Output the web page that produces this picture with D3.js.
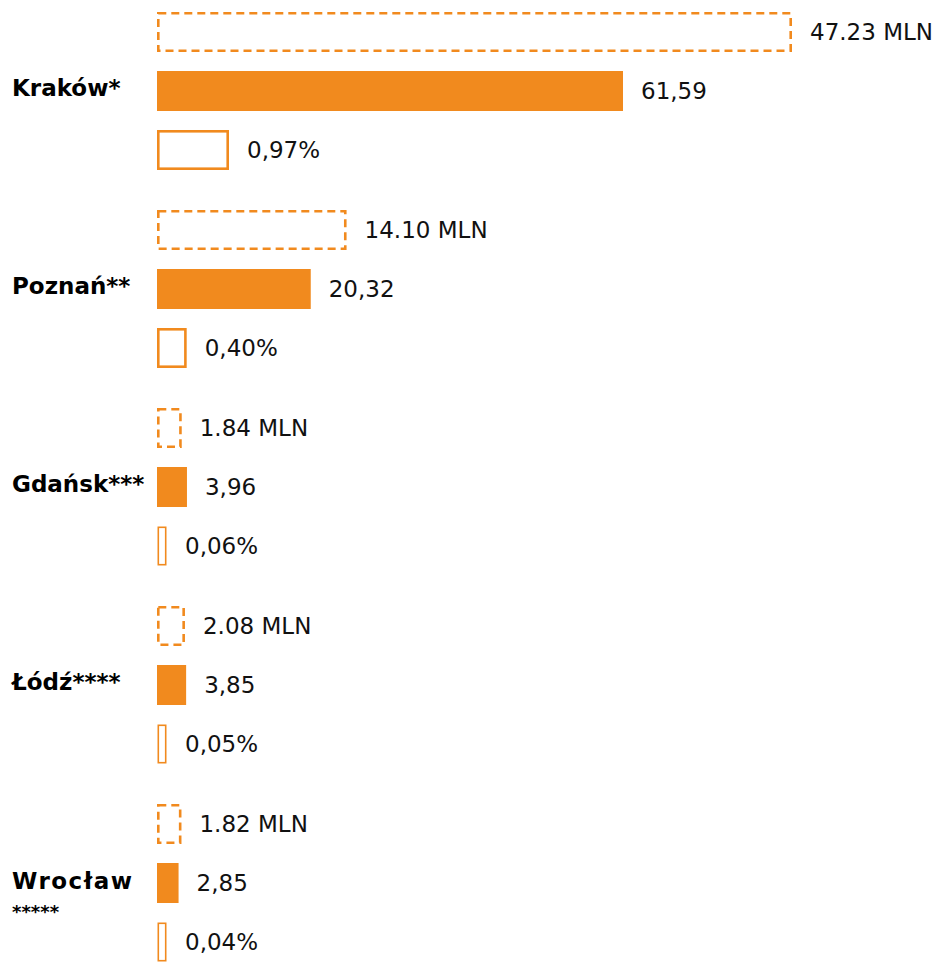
<!DOCTYPE html>
<html>
<head>
<meta charset="utf-8">
<script src="https://cdn.jsdelivr.net/npm/d3@7"></script>
<style>
  html, body { margin: 0; padding: 0; background: #fff; }
  svg { display: block; font-family: "DejaVu Sans", sans-serif; }
  .city-label { font-weight: bold; font-size: 23px; fill: #000; }
  .value-label { font-size: 23px; fill: #111; }
</style>
</head>
<body>
<div id="chart"></div>
<script>
const cities = ["Kraków", "Poznań", "Gdańsk", "Łódź", "Wrocław"];
const footnotes = ["*", "**", "***", "****", "*****"];
const passengersMln = [47.23, 14.10, 1.84, 2.08, 1.82];
const values = [61.59, 20.32, 3.96, 3.85, 2.85];
const shares = [0.97, 0.40, 0.06, 0.05, 0.04];
const series = ["mln", "value", "share"];

const WIDTH = 943;
const HEIGHT = 962;
const BAR_X = 157;
const ORANGE = "#f18a1e";
const LABEL_GAP = 18;

const rows = cities.map((c, i) => ({
  city: c,
  note: footnotes[i],
  mln: passengersMln[i],
  value: values[i],
  share: shares[i],
}));

const pl = d3.formatLocale({ decimal: ",", thousands: " ", grouping: [3], currency: ["", " zł"] });
const fmtComma = pl.format(".2f");
const fmtDot = d3.format(".2f");

const svg = d3.select("#chart")
  .append("svg")
  .attr("width", WIDTH)
  .attr("height", HEIGHT);

// city bands (step 198, band 158), then one inner band per bar
const y0 = d3.scaleBand()
  .domain(cities)
  .range([12, 962])
  .paddingInner(40 / 198);

const y1 = d3.scaleBand()
  .domain(series)
  .range([0, y0.bandwidth()])
  .paddingInner(0.322);

const xMln = d3.scaleLinear().domain([0, d3.max(passengersMln)]).range([0, 635]);
const xVal = d3.scaleLinear().domain([0, d3.max(values)]).range([0, 466]);
const xPct = d3.scaleLinear().domain([0, d3.max(shares)]).range([0, 72]);
const MIN_PCT_W = 10;

const groups = svg.selectAll(".city")
  .data(rows)
  .join("g")
  .attr("class", "city")
  .attr("transform", d => `translate(0,${y0(d.city)})`);

const bh = y1.bandwidth();
const sw = 2.6;

// dashed outline bar (passengers, mln)
groups.append("rect")
  .attr("x", BAR_X + sw / 2)
  .attr("y", y1("mln") + sw / 2)
  .attr("width", d => xMln(d.mln) - sw)
  .attr("height", bh - sw)
  .attr("fill", "none")
  .attr("stroke", ORANGE)
  .attr("stroke-width", sw)
  .attr("stroke-dasharray", "8 5");

groups.append("text")
  .attr("class", "value-label")
  .attr("x", d => BAR_X + xMln(d.mln) + LABEL_GAP)
  .attr("y", y1("mln") + bh / 2)
  .attr("dy", "0.36em")
  .text(d => `${fmtDot(d.mln)} MLN`);

// filled bar
groups.append("rect")
  .attr("x", BAR_X)
  .attr("y", y1("value"))
  .attr("width", d => xVal(d.value))
  .attr("height", bh)
  .attr("fill", ORANGE);

groups.append("text")
  .attr("class", "value-label")
  .attr("x", d => BAR_X + xVal(d.value) + LABEL_GAP)
  .attr("y", y1("value") + bh / 2)
  .attr("dy", "0.36em")
  .text(d => fmtComma(d.value));

// solid outline bar (share %)
const pctW = d => Math.max(MIN_PCT_W, xPct(d.share));

groups.append("rect")
  .attr("x", BAR_X + sw / 2)
  .attr("y", y1("share") + sw / 2)
  .attr("width", d => pctW(d) - sw)
  .attr("height", bh - sw)
  .attr("fill", "none")
  .attr("stroke", ORANGE)
  .attr("stroke-width", d => (d.share < 0.1 ? 1.6 : sw));

groups.append("text")
  .attr("class", "value-label")
  .attr("x", d => BAR_X + pctW(d) + LABEL_GAP)
  .attr("y", y1("share") + bh / 2)
  .attr("dy", "0.36em")
  .text(d => `${fmtComma(d.share)}%`);

// city labels; long names push the footnote marks to a second line
const labels = groups.append("text")
  .attr("class", "city-label")
  .attr("x", 12)
  .attr("y", y1("value") + bh / 2 - 3)
  .attr("dy", "0.36em");

labels.each(function (d) {
  const t = d3.select(this);
  if (d.city.length > 6) {
    t.attr("y", y1("value") + bh / 2 - 2);
    t.append("tspan").style("letter-spacing", "1.5px").text(d.city);
    t.append("tspan")
      .attr("x", 12)
      .attr("dy", "1.6em")
      .style("font-size", "18px")
      .text(d.note);
  } else {
    t.text(d.city + d.note);
  }
});
</script>
</body>
</html>
